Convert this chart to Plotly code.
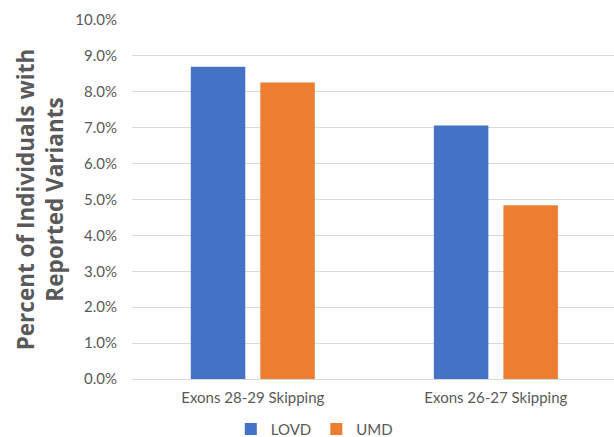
import plotly.graph_objects as go

# Share of individuals with reported variants, by exon-skipping strategy
categories = ["Exons 28-29 Skipping", "Exons 26-27 Skipping"]
lovd = [0.0870, 0.0706]
umd = [0.0826, 0.0484]
y_ticks = [0.00, 0.01, 0.02, 0.03, 0.04, 0.05, 0.06, 0.07, 0.08, 0.09, 0.10]

TEXT = "#595959"
GRID = "#d9d9d9"
FONT = "Lato, 'Open Sans', sans-serif"

fig = go.Figure()
fig.add_trace(go.Bar(name="LOVD", x=categories, y=lovd, marker_color="#4472C4",
                     marker_line_width=0))
fig.add_trace(go.Bar(name="UMD", x=categories, y=umd, marker_color="#ED7D31",
                     marker_line_width=0))

fig.update_layout(
    width=614, height=437,
    margin=dict(l=132, r=0, t=20, b=58, autoexpand=False),
    paper_bgcolor="white", plot_bgcolor="white",
    barmode="group", bargap=0.428, bargroupgap=0.216,
    font=dict(family=FONT, color=TEXT, size=13),
    showlegend=True,
    legend=dict(orientation="h", x=0.205, xanchor="left", y=-0.14, yanchor="middle",
                font=dict(size=15, color=TEXT), itemwidth=30,
                bgcolor="rgba(0,0,0,0)"),
)
fig.update_xaxes(
    type="category", range=[-0.497, 1.486],
    showgrid=False, showline=True, linecolor=GRID, linewidth=1,
    ticks="", tickfont=dict(size=15, color=TEXT), ticklabelstandoff=5,
)
fig.update_yaxes(
    range=[0, 0.1], tickvals=y_ticks, tickformat=".1%",
    showgrid=True, gridcolor=GRID, gridwidth=1, zeroline=False,
    ticks="", tickfont=dict(size=15, color=TEXT), ticklabelstandoff=14,
    title=dict(text="Percent of Individuals with<br>Reported Variants",
               font=dict(size=22.5, color=TEXT, family="'Open Sans', sans-serif", weight="bold"),
               standoff=5),
    automargin=True,
)

fig.write_html("out.html")
